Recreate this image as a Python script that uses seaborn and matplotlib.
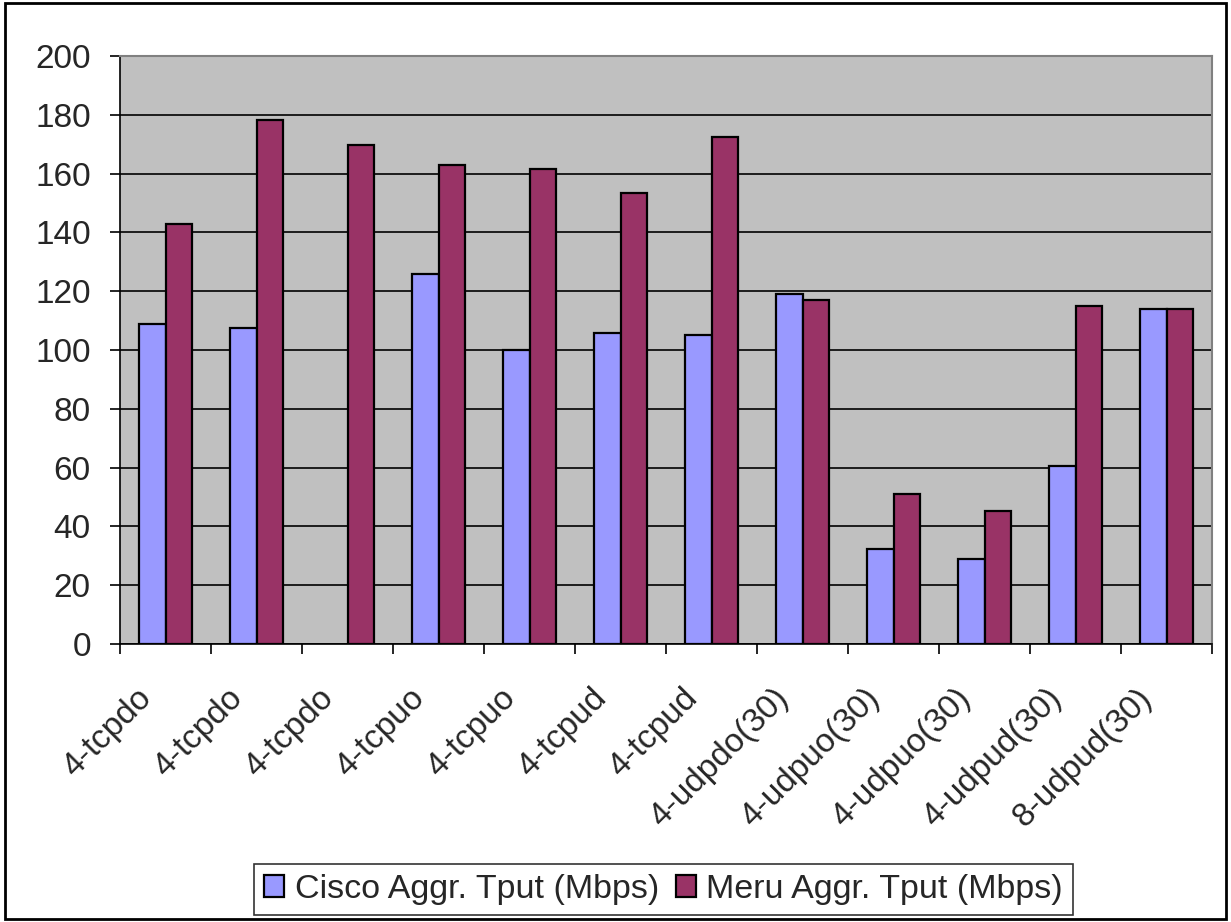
import matplotlib.pyplot as plt
import matplotlib.ticker as tkr
import matplotlib.transforms as mtrans
import numpy as np
import pandas as pd
import seaborn as sns
from matplotlib.patches import Rectangle

sns.set_theme(style="ticks")
plt.rcParams['font.family'] = ['Liberation Sans', 'DejaVu Sans']

tests = ['4-tcpdo', '4-tcpdo', '4-tcpdo', '4-tcpuo', '4-tcpuo', '4-tcpud', '4-tcpud',
         '4-udpdo(30)', '4-udpuo(30)', '4-udpuo(30)', '4-udpud(30)', '8-udpud(30)']
cisco = [109, 107.4, np.nan, 125.7, 100, 105.9, 105.1, 119.1, 32.4, 28.8, 60.7, 114.1]
meru = [142.9, 178.4, 169.7, 162.8, 161.4, 153.3, 172.5, 117.1, 51.1, 45.1, 114.9, 114.1]
series = ['Cisco Aggr. Tput (Mbps)', 'Meru Aggr. Tput (Mbps)']
colors = ['#9999FF', '#993366']

df = pd.DataFrame({'idx': list(range(len(tests))) * 2,
                   'Throughput': cisco + meru,
                   'Series': [series[0]] * len(tests) + [series[1]] * len(tests)})

fig = plt.figure(figsize=(12.31, 9.22), dpi=100)
ax = fig.add_axes([120 / 1231, 1 - 644 / 922, 1092 / 1231, 588 / 922])
sns.barplot(data=df, x='idx', y='Throughput', hue='Series', palette=colors,
            width=0.58, gap=0, edgecolor='black', linewidth=1.6, saturation=1,
            ax=ax, legend=True)

ax.set_facecolor('#C0C0C0')
ax.set_xlim(-0.5, len(tests) - 0.5)
ax.set_ylim(0, 200)
ax.yaxis.set_major_locator(tkr.MultipleLocator(20))
ax.yaxis.grid(True, color='black', linewidth=1.2)
ax.set_axisbelow(True)

# ticks at category boundaries, labels at centres
ax.set_xticks(np.arange(-0.5, len(tests), 1.0))
ax.set_xticklabels([])
ax.set_xticks(np.arange(len(tests)), minor=True)
ax.set_xticklabels(tests, minor=True, rotation=45, ha='right', rotation_mode='anchor',
                   fontsize=24)
ax.tick_params(axis='x', which='major', length=7, width=1.2, color='black')
ax.tick_params(axis='x', which='minor', length=0, pad=28)
ax.tick_params(axis='y', length=7, width=1.2, color='black', labelsize=24, pad=14)
ax.set_xlabel('')
ax.set_ylabel('')

# labels sit left of the category centre, like the original
shift = mtrans.ScaledTranslation(-30 / 100, 0, fig.dpi_scale_trans)
for lab in ax.get_xticklabels(minor=True):
    lab.set_transform(lab.get_transform() + shift)

for side in ['left', 'bottom']:
    ax.spines[side].set_color('black')
    ax.spines[side].set_linewidth(1.2)
for side in ['top', 'right']:
    ax.spines[side].set_visible(True)
    ax.spines[side].set_color('#808080')
    ax.spines[side].set_linewidth(1.5)

handles, labels = ax.get_legend_handles_labels()
ax.get_legend().remove()
leg = fig.legend(handles, labels, loc='center', bbox_to_anchor=(663.5 / 1231, 1 - 889.5 / 922),
                 ncol=2, fontsize=24.5, frameon=True, fancybox=False, edgecolor='black',
                 handlelength=0.6, handleheight=0.6, handletextpad=0.3, columnspacing=0.5,
                 borderpad=0.3, borderaxespad=0)
leg.get_frame().set_linewidth(1.2)

fig.patches.append(Rectangle((0.004, 0.003), 0.992, 0.994, transform=fig.transFigure,
                             fill=False, edgecolor='black', linewidth=2))

plt.savefig('out.png', dpi=100)
